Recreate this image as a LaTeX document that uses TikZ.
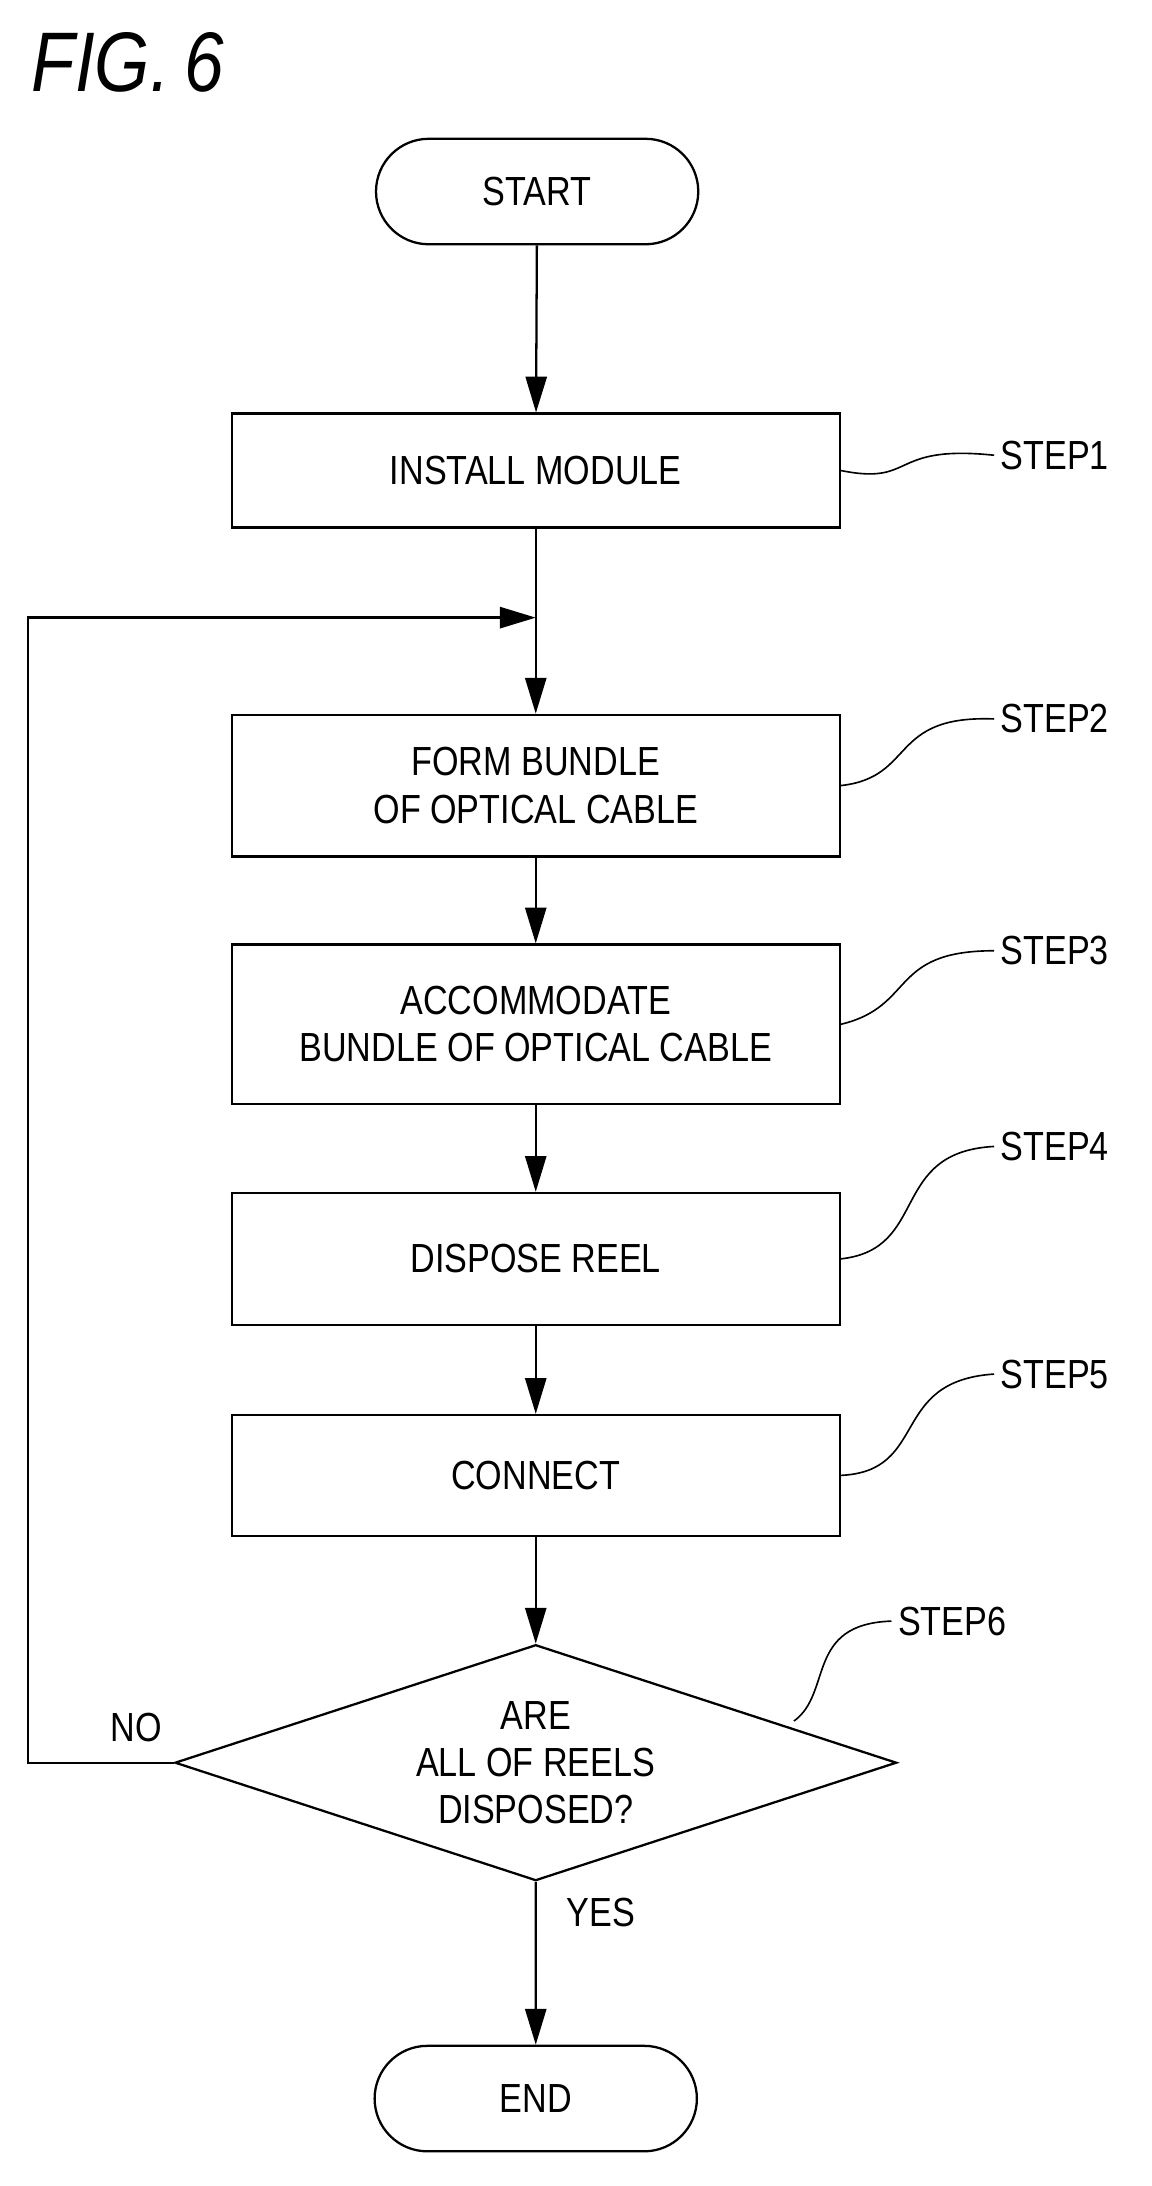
\documentclass[tikz,border=0pt]{standalone}
\usepackage{fontspec}
\setmainfont{Liberation Sans}[FakeStretch=0.84]
\usetikzlibrary{shapes.geometric,shapes.misc,arrows.meta}
\begin{document}
\begin{tikzpicture}[x=0.03cm,y=-0.03cm,line width=1.4pt,font=\fontsize{25}{29}\selectfont,
  box/.style={draw,minimum width=438*0.03cm,align=center},
  term/.style={draw,rounded rectangle,minimum width=240*0.03cm,minimum height=76*0.03cm},
  flow/.style={-{Triangle[length=22pt,width=13pt]}},
  lead/.style={line width=1pt}]
\useasboundingbox (0,0) rectangle (830,1575);

\node[font=\itshape\fontsize{52}{56}\selectfont] (fig) at (92,45) {FIG.\,6};

\node[term] (start) at (387,138) {START};
\node[box,minimum height=82*0.03cm] (s1) at (386,339) {INSTALL MODULE};
\coordinate (join) at (386,445);
\node[box,minimum height=102*0.03cm] (s2) at (386,566) {FORM BUNDLE\\OF OPTICAL CABLE};
\node[box,minimum height=115*0.03cm] (s3) at (386,738) {ACCOMMODATE\\BUNDLE OF OPTICAL CABLE};
\node[box,minimum height=95*0.03cm] (s4) at (386,907) {DISPOSE REEL};
\node[box,minimum height=87*0.03cm] (s5) at (386,1063) {CONNECT};
\node[draw,diamond,aspect=3.06,minimum width=520*0.03cm,minimum height=170*0.03cm,inner sep=0pt,align=center] (s6) at (386,1270) {ARE\\ALL OF REELS\\DISPOSED?};
\node[term] (end) at (386,1512) {END};

\node (l1) at (760,328) {STEP1};
\node (l2) at (760,518) {STEP2};
\node (l3) at (760,685) {STEP3};
\node (l4) at (760,826) {STEP4};
\node (l5) at (760,990) {STEP5};
\node (l6) at (686,1168) {STEP6};
\node (no) at (98,1245) {NO};
\node (yes) at (433,1378) {YES};

% connectors
\draw[flow] (start) -- (s1);
\draw (s1) -- (join);
\draw[flow] (join) -- (s2);
\draw[flow] (s2) -- (s3);
\draw[flow] (s3) -- (s4);
\draw[flow] (s4) -- (s5);
\draw[flow] (s5) -- (s6);
\draw[flow] (s6) -- (end);
\draw[flow] (s6.west) -- (20,1270) -- (20,445) -- (join);

% leaders
\draw[lead] (s1.east) .. controls (660,350) and (640,320) .. (l1.west);
\draw[lead] (s2.east) .. controls (660,560) and (640,515) .. (l2.west);
\draw[lead] (s3.east) .. controls (660,725) and (640,685) .. (l3.west);
\draw[lead] (s4.east) .. controls (670,900) and (640,830) .. (l4.west);
\draw[lead] (s5.east) .. controls (670,1060) and (640,995) .. (l5.west);
\draw[lead] (572,1240) .. controls (600,1220) and (580,1170) .. (l6.west);
\end{tikzpicture}
\end{document}
